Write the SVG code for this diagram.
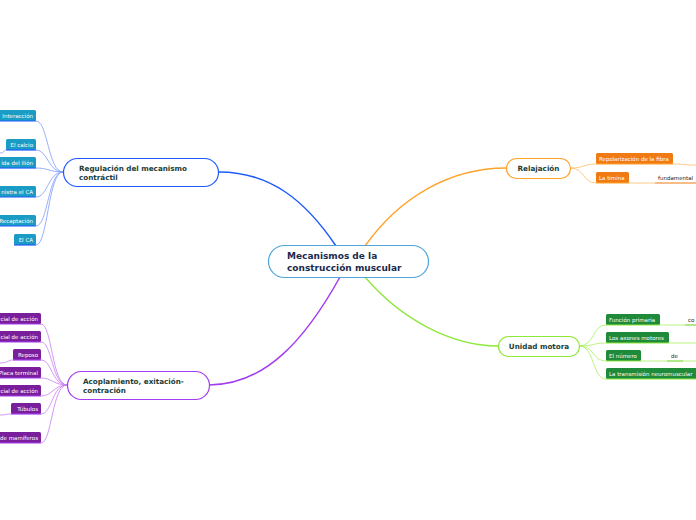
<svg xmlns="http://www.w3.org/2000/svg" width="696" height="520" viewBox="0 0 696 520">
<style>
text{font-family:"DejaVu Sans","Liberation Sans",sans-serif}
.main{fill:#fff;stroke-width:1.2}
.mt{font-size:7.2px;font-weight:bold;fill:#1c4038}
.ct{font-size:9px;font-weight:bold;fill:#1b2a4d}
.lt{font-size:5.5px;fill:#fff}
.c{fill:none}
.blue{fill:#1a9cc4}
.purp{fill:#7a1f9c}
.org{fill:#f07a14}
.grn{fill:#1f8a3a}
.dt{font-size:5.5px;fill:#222}
</style>
<g id="connectors">
  <path class="c" d="M336,246 C305,200 270,172 219,172" stroke="#1e5bff" stroke-width="1.5"/>
  <path class="c" d="M365,246 C400,197 450,168 506,168" stroke="#ffa22a" stroke-width="1.3"/>
  <path class="c" d="M340,277 C305,340 265,385 209,385" stroke="#a33cf0" stroke-width="1.5"/>
  <path class="c" d="M365,277 C400,318 450,346 498,346" stroke="#8ee83a" stroke-width="1.3"/>
  <g stroke="#7f9cff" stroke-width="0.8" fill="none">
    <path d="M63,172 C48,172 48,121 36,121"/>
    <path d="M63,172 C48,172 48,150 36,150"/>
    <path d="M63,172 C50,172 48,168 36,168"/>
    <path d="M63,172 C48,172 48,197 36,197"/>
    <path d="M63,172 C48,172 48,226 36,226"/>
    <path d="M63,172 C48,172 48,245 36,245"/>
    <path d="M0,153 C4,153 4,150 6,150"/>
    <path d="M0,168 L36,168"/>
  </g>
  <g stroke="#c67cf5" stroke-width="0.8" fill="none">
    <path d="M67,385 C52,385 52,324 41,324"/>
    <path d="M67,385 C52,385 52,342 41,342"/>
    <path d="M67,385 C52,385 52,360 41,360"/>
    <path d="M67,385 C54,385 52,378 41,378"/>
    <path d="M67,385 C54,385 52,396 41,396"/>
    <path d="M67,385 C52,385 52,414 41,414"/>
    <path d="M67,385 C52,385 52,443 41,443"/>
    <path d="M0,363 C8,363 8,360 13,360"/>
    <path d="M0,415 C6,415 6,414 11,414"/>
  </g>
  <g stroke="#ffbb66" stroke-width="0.8" fill="none">
    <path d="M570,168 C585,168 583,164 596,164"/>
    <path d="M570,168 C585,168 583,183 596,183"/>
    <path d="M673,164 C682,164 682,165 696,165"/>
    <path d="M629,183 C640,183 645,183 655,183"/>
  </g>
  <path d="M655,183 L696,183" stroke="#f07a14" stroke-width="1.2"/>
  <g stroke="#a8f060" stroke-width="0.8" fill="none">
    <path d="M579,346 C595,346 592,325 606,325"/>
    <path d="M579,346 C595,346 592,343 606,343"/>
    <path d="M579,346 C595,346 592,361 606,361"/>
    <path d="M579,346 C595,346 592,379 606,379"/>
    <path d="M660,325 L685,325"/>
    <path d="M669,343 L696,343"/>
    <path d="M641,361 L667,361"/>
    <path d="M683,361 L696,361"/>
  </g>
  <path d="M685,325 L696,325" stroke="#7ed93a" stroke-width="1.2"/>
  <path d="M667,361 L683,361" stroke="#7ed93a" stroke-width="1.2"/>
</g>
<g id="central">
  <rect class="main" x="268.5" y="245.5" width="160" height="32" rx="16" stroke="#4ea6dc"/>
  <text class="ct" x="287" y="259">Mecanismos de la</text>
  <text class="ct" x="287" y="271">construcción muscular</text>
</g>
<g id="regulacion">
  <rect class="main" x="63.5" y="158.5" width="155" height="28" rx="14" stroke="#1e5bff"/>
  <text class="mt" x="79" y="171">Regulación del mecanismo</text>
  <text class="mt" x="79" y="180">contráctil</text>
</g>
<g id="relajacion">
  <rect class="main" x="506.5" y="158.5" width="64" height="20" rx="10" stroke="#ffa22a"/>
  <text class="mt" x="538.5" y="171" text-anchor="middle">Relajación</text>
</g>
<g id="unidad">
  <rect class="main" x="498.5" y="336.5" width="81" height="20" rx="10" stroke="#8ee83a"/>
  <text class="mt" x="539" y="349" text-anchor="middle">Unidad motora</text>
</g>
<g id="acoplamiento">
  <rect class="main" x="67.5" y="371.5" width="142" height="28" rx="14" stroke="#a33cf0"/>
  <text class="mt" x="83" y="384">Acoplamiento, exitación-</text>
  <text class="mt" x="83" y="393">contración</text>
</g>
<g id="reg-leaves">
  <g id="interaccion"><rect class="blue" x="-3" y="110" width="39" height="11" rx="1.5"/><path d="M-3,121 H36" stroke="#1e5bff" stroke-width="1.2"/><text class="lt" x="33" y="117.5" text-anchor="end">Interacción</text></g>
  <g id="calcio"><rect class="blue" x="6" y="139" width="30" height="11" rx="1.5"/><path d="M6,150 H36" stroke="#1e5bff" stroke-width="1.2"/><text class="lt" x="33" y="146.5" text-anchor="end">El calcio</text></g>
  <g id="ilion"><rect class="blue" x="-3" y="157" width="39" height="11" rx="1.5"/><path d="M-3,168 H36" stroke="#1e5bff" stroke-width="1.2"/><text class="lt" x="33" y="164.5" text-anchor="end">ida del ilión</text></g>
  <g id="suministra"><rect class="blue" x="-3" y="186" width="39" height="11" rx="1.5"/><path d="M-3,197 H36" stroke="#1e5bff" stroke-width="1.2"/><text class="lt" x="33" y="193.5" text-anchor="end">nistra el CA</text></g>
  <g id="recaptacion"><rect class="blue" x="-3" y="215" width="39" height="11" rx="1.5"/><path d="M-3,226 H36" stroke="#1e5bff" stroke-width="1.2"/><text class="lt" x="33" y="222.5" text-anchor="end">Recaptación</text></g>
  <g id="elca"><rect class="blue" x="14" y="234" width="22" height="11" rx="1.5"/><path d="M14,245 H36" stroke="#1e5bff" stroke-width="1.2"/><text class="lt" x="33" y="241.5" text-anchor="end">El CA</text></g>
</g>
<g id="acop-leaves">
  <g id="p1"><rect class="purp" x="-3" y="313" width="44" height="11" rx="1.5"/><path d="M-3,324 H41" stroke="#a33cf0" stroke-width="1.2"/><text class="lt" x="38" y="320.5" text-anchor="end">cial de acción</text></g>
  <g id="p2"><rect class="purp" x="-3" y="331" width="44" height="11" rx="1.5"/><path d="M-3,342 H41" stroke="#a33cf0" stroke-width="1.2"/><text class="lt" x="38" y="338.5" text-anchor="end">cial de acción</text></g>
  <g id="reposo"><rect class="purp" x="13" y="349" width="28" height="11" rx="1.5"/><path d="M13,360 H41" stroke="#a33cf0" stroke-width="1.2"/><text class="lt" x="38" y="356.5" text-anchor="end">Reposo</text></g>
  <g id="placa"><rect class="purp" x="-3" y="367" width="44" height="11" rx="1.5"/><path d="M-3,378 H41" stroke="#a33cf0" stroke-width="1.2"/><text class="lt" x="38" y="374.5" text-anchor="end">Placa terminal</text></g>
  <g id="p3"><rect class="purp" x="-3" y="385" width="44" height="11" rx="1.5"/><path d="M-3,396 H41" stroke="#a33cf0" stroke-width="1.2"/><text class="lt" x="38" y="392.5" text-anchor="end">cial de acción</text></g>
  <g id="tubulos"><rect class="purp" x="11" y="403" width="30" height="11" rx="1.5"/><path d="M11,414 H41" stroke="#a33cf0" stroke-width="1.2"/><text class="lt" x="38" y="410.5" text-anchor="end">Túbulos</text></g>
  <g id="mamiferos"><rect class="purp" x="-3" y="432" width="44" height="11" rx="1.5"/><path d="M-3,443 H41" stroke="#a33cf0" stroke-width="1.2"/><text class="lt" x="38" y="439.5" text-anchor="end">de mamíferos</text></g>
</g>
<g id="rel-leaves">
  <g id="repolarizacion"><rect class="org" x="596" y="153" width="77" height="11" rx="1.5"/><path d="M596,164 H673" stroke="#ffa22a" stroke-width="1.2"/><text class="lt" x="599" y="160.5">Repolarización de la fibra</text></g>
  <g id="timina"><rect class="org" x="596" y="172" width="33" height="11" rx="1.5"/><path d="M596,183 H629" stroke="#ffa22a" stroke-width="1.2"/><text class="lt" x="599" y="179.5">La timina</text></g>
  <g id="fundamental"><text class="dt" x="658" y="179.5">fundamental</text></g>
</g>
<g id="um-leaves">
  <g id="funcion"><rect class="grn" x="606" y="314" width="54" height="11" rx="1.5"/><path d="M606,325 H660" stroke="#8ee83a" stroke-width="1.2"/><text class="lt" x="609" y="321.5">Función primaria</text></g>
  <g id="co"><text class="dt" x="688" y="321.5">co</text></g>
  <g id="axones"><rect class="grn" x="606" y="332" width="63" height="11" rx="1.5"/><path d="M606,343 H669" stroke="#8ee83a" stroke-width="1.2"/><text class="lt" x="609" y="339.5">Los axones motores</text></g>
  <g id="numero"><rect class="grn" x="606" y="350" width="35" height="11" rx="1.5"/><path d="M606,361 H641" stroke="#8ee83a" stroke-width="1.2"/><text class="lt" x="609" y="357.5">El número</text></g>
  <g id="de"><text class="dt" x="671" y="357.5">de</text></g>
  <g id="transmision"><rect class="grn" x="606" y="368" width="95" height="11" rx="1.5"/><path d="M606,379 H701" stroke="#8ee83a" stroke-width="1.2"/><text class="lt" x="609" y="375.5">La transmisión neuromuscular</text></g>
</g>
</svg>
